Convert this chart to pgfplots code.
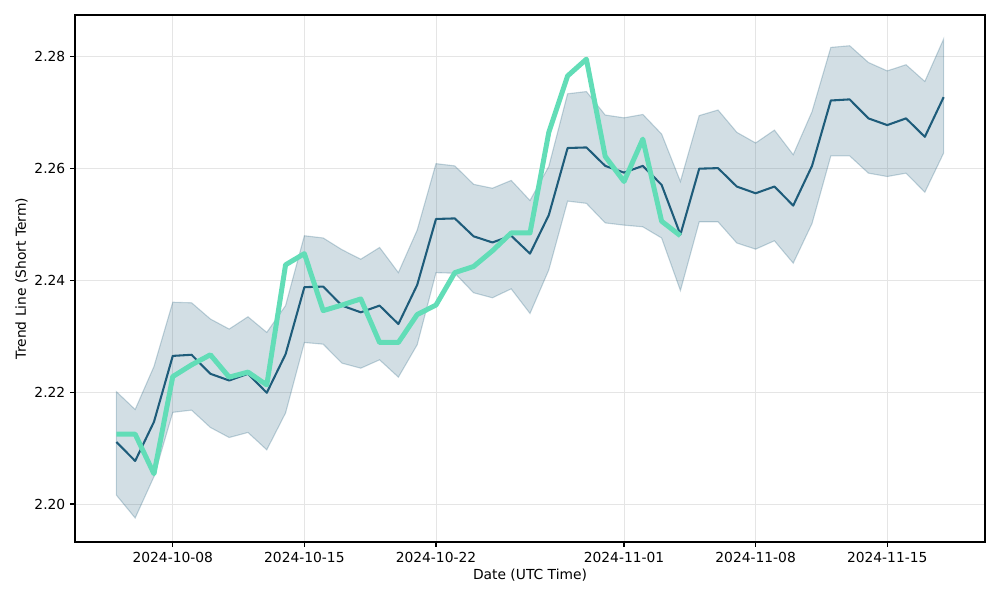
\documentclass[border=0pt]{standalone}
\usepackage{fontspec}
\setmainfont{DejaVu Sans}
\usepackage{pgfplots}
\pgfplotsset{compat=1.18}
\usepackage{pgfplotstable}
\definecolor{trend}{RGB}{30,92,122}
\definecolor{mint}{RGB}{98,221,183}

% day = days since 2024-10-01
\pgfplotstableread{
day mid upper lower
4 2.2111 2.2201 2.2016
5 2.2077 2.2169 2.1975
6 2.2147 2.2246 2.2049
7 2.2265 2.2361 2.2164
8 2.2267 2.2360 2.2168
9 2.2233 2.2331 2.2137
10 2.2221 2.2313 2.2119
11 2.2233 2.2335 2.2128
12 2.2199 2.2307 2.2097
13 2.2268 2.2355 2.2163
14 2.2388 2.2480 2.2289
15 2.2389 2.2476 2.2286
16 2.2355 2.2455 2.2252
17 2.2343 2.2438 2.2243
18 2.2355 2.2459 2.2258
19 2.2322 2.2414 2.2227
20 2.2392 2.2490 2.2285
21 2.2510 2.2609 2.2414
22 2.2511 2.2605 2.2413
23 2.2479 2.2572 2.2378
24 2.2468 2.2565 2.2369
25 2.2480 2.2579 2.2385
26 2.2448 2.2543 2.2341
27 2.2517 2.2604 2.2419
28 2.2637 2.2734 2.2542
29 2.2638 2.2738 2.2538
30 2.2605 2.2696 2.2503
31 2.2593 2.2691 2.2499
32 2.2605 2.2697 2.2496
33 2.2571 2.2662 2.2476
34 2.2482 2.2577 2.2382
35 2.2600 2.2695 2.2505
36 2.2601 2.2705 2.2505
37 2.2568 2.2665 2.2467
38 2.2556 2.2646 2.2456
39 2.2568 2.2669 2.2471
40 2.2534 2.2625 2.2431
41 2.2605 2.2702 2.2502
42 2.2722 2.2817 2.2623
43 2.2724 2.2820 2.2623
44 2.2690 2.2790 2.2592
45 2.2678 2.2775 2.2586
46 2.2690 2.2786 2.2592
47 2.2657 2.2756 2.2558
48 2.2728 2.2832 2.2628
}\band

% band outline: upper edge forward, lower edge back
\pgfplotstableread{
day y
4 2.2201
5 2.2169
6 2.2246
7 2.2361
8 2.2360
9 2.2331
10 2.2313
11 2.2335
12 2.2307
13 2.2355
14 2.2480
15 2.2476
16 2.2455
17 2.2438
18 2.2459
19 2.2414
20 2.2490
21 2.2609
22 2.2605
23 2.2572
24 2.2565
25 2.2579
26 2.2543
27 2.2604
28 2.2734
29 2.2738
30 2.2696
31 2.2691
32 2.2697
33 2.2662
34 2.2577
35 2.2695
36 2.2705
37 2.2665
38 2.2646
39 2.2669
40 2.2625
41 2.2702
42 2.2817
43 2.2820
44 2.2790
45 2.2775
46 2.2786
47 2.2756
48 2.2832
48 2.2628
47 2.2558
46 2.2592
45 2.2586
44 2.2592
43 2.2623
42 2.2623
41 2.2502
40 2.2431
39 2.2471
38 2.2456
37 2.2467
36 2.2505
35 2.2505
34 2.2382
33 2.2476
32 2.2496
31 2.2499
30 2.2503
29 2.2538
28 2.2542
27 2.2419
26 2.2341
25 2.2385
24 2.2369
23 2.2378
22 2.2413
21 2.2414
20 2.2285
19 2.2227
18 2.2258
17 2.2243
16 2.2252
15 2.2286
14 2.2289
13 2.2163
12 2.2097
11 2.2128
10 2.2119
9 2.2137
8 2.2168
7 2.2164
6 2.2049
5 2.1975
4 2.2016
}\outline

\pgfplotstableread{
day price
4 2.2125
5 2.2125
6 2.2054
7 2.2228
8 2.2249
9 2.2267
10 2.2227
11 2.2236
12 2.2213
13 2.2428
14 2.2448
15 2.2346
16 2.2356
17 2.2367
18 2.2289
19 2.2289
20 2.2339
21 2.2356
22 2.2414
23 2.2425
24 2.2453
25 2.2485
26 2.2485
27 2.2665
28 2.2766
29 2.2796
30 2.2622
31 2.2577
32 2.2653
33 2.2506
34 2.2480
}\price

\begin{document}
\begin{tikzpicture}
\path[use as bounding box] (0,0) rectangle (10in,6in);
\begin{axis}[
  at={(0.75in,0.58in)}, anchor=south west,
  scale only axis, width=9.1in, height=5.27in,
  xmin=1.8, xmax=50.2, ymin=2.1932, ymax=2.2875,
  xtick={7,14,21,31,38,45},
  xticklabels={2024-10-08,2024-10-15,2024-10-22,2024-11-01,2024-11-08,2024-11-15},
  ytick={2.20,2.22,2.24,2.26,2.28},
  yticklabel style={/pgf/number format/.cd, fixed, fixed zerofill, precision=2},
  /pgf/number format/assume math mode=true,
  tick label style={font=\fontsize{10}{12}\selectfont, text=black},
  label style={font=\fontsize{10}{12}\selectfont},
  xlabel={Date (UTC Time)}, ylabel={Trend Line (Short Term)},
  xlabel style={yshift=2pt}, ylabel style={yshift=-2pt},
  tick pos=left, tick align=outside, major tick length=3.5pt,
  every tick/.style={black, line width=0.8pt},
  axis line style={line width=0.8pt},
  grid=major, major grid style={black!10, line width=0.6pt},
]
\addplot[fill=trend, fill opacity=0.2, draw=trend, draw opacity=0.25, line width=0.8pt] table[x=day, y=y] {\outline} -- cycle;
\addplot[trend, line width=1.5pt, line join=round] table[x=day, y=mid] {\band};
\addplot[mint, line width=3.6pt, line join=round] table[x=day, y=price] {\price};
\end{axis}
\end{tikzpicture}
\end{document}
